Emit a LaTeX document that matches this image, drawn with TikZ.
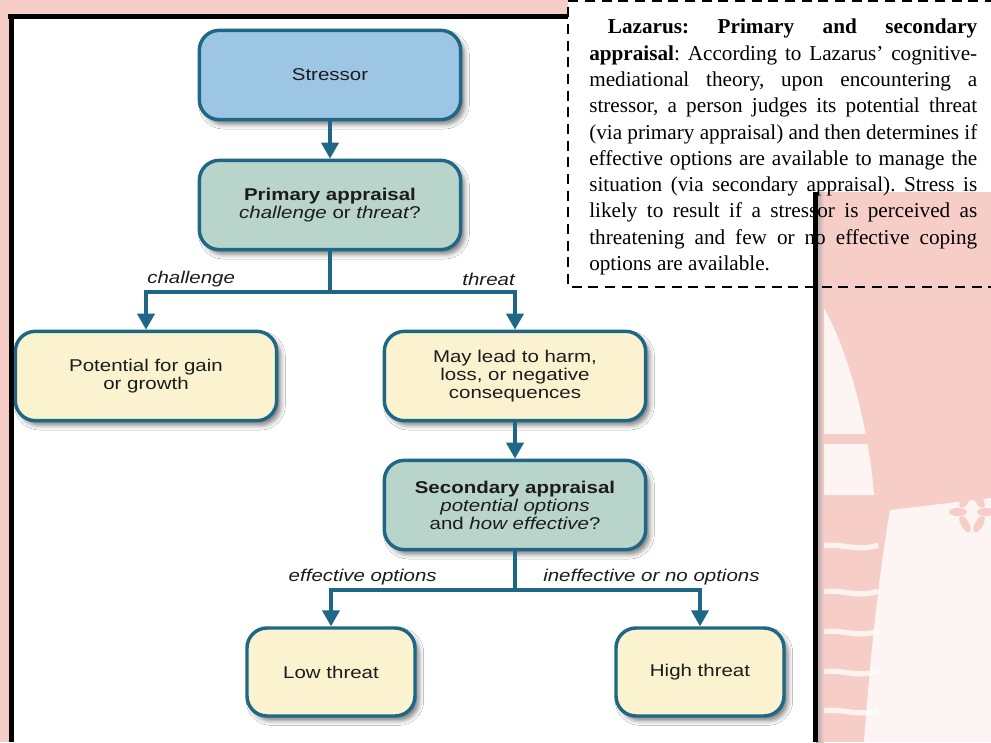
\documentclass[tikz,border=0pt]{standalone}
\usepackage{fontspec}
\setmainfont{Liberation Serif}
\newfontfamily\diagfont[FakeStretch=1.2]{Liberation Sans}
\usetikzlibrary{arrows.meta,shadows.blur}
\definecolor{wmpink}{HTML}{F7CDC7}
\definecolor{edge}{HTML}{1E6786}
\definecolor{stressfill}{HTML}{9DC6E5}
\definecolor{apprfill}{HTML}{B8D4CB}
\definecolor{outfill}{HTML}{FBF3CF}
\definecolor{ink}{HTML}{1C1C1C}
\begin{document}
\frenchspacing
\begin{tikzpicture}[x=0.75pt,y=-0.75pt,
  box/.style={draw=edge, line width=2.6pt, rounded corners=15pt, align=center,
    font=\diagfont\fontsize{12.8}{13.5}\selectfont, text=ink, inner sep=0pt,
    blur shadow={shadow xshift=3pt, shadow yshift=-3.5pt, shadow blur radius=3.5pt, shadow opacity=50}},
  wide/.style={box, minimum width=196pt, minimum height=67pt},
  narrow/.style={box, minimum width=126pt, minimum height=66pt},
  conn/.style={draw=edge, line width=2.4pt},
  arr/.style={conn, -{Triangle[width=13pt,length=12pt]}},
  lbl/.style={font=\diagfont\itshape\fontsize{12.8}{13.5}\selectfont, text=ink, inner sep=0pt},
  frameline/.style={line width=3.75pt, black},
  notedash/.style={line width=1.5pt, dash pattern=on 7.5pt off 5pt},
]
\useasboundingbox (0,0) rectangle (991,742);

% page background with the pale crest
\fill[wmpink] (0,0) rectangle (991,742);
\fill[white, opacity=.8] (818,298) .. controls (845,340) and (868,420) .. (874,495) -- (818,495) -- cycle;
\fill[wmpink] (818,434) rectangle (874,444);
\fill[white, opacity=.8] (890,510) -- (991,498) -- (991,742) -- (864,742) .. controls (870,660) and (878,580) .. (890,510) -- cycle;
\foreach \yy in {547,593,633,673,712}
  \draw[white, opacity=.75, line width=4pt] (818,\yy) .. controls (838,\yy-6) and (858,\yy+6) .. (878,\yy-2);
\foreach \ang in {0,60,120,180,240,300}
  \fill[wmpink] (972,512) ++(\ang:14) ellipse [x radius=9, y radius=4, rotate=\ang];

% white sheet of the figure and of the note
\fill[white] (11,17) rectangle (815,742);
\fill[white] (568,0) rectangle (991,192);
\shade[left color=black!35, right color=wmpink] (816,192) rectangle (824,742);

% flowchart
\node[wide, fill=stressfill] (stressor) at (330,75) {Stressor};
\node[wide, fill=apprfill] (primary) at (330,205) {\textbf{Primary appraisal}\\\textit{challenge} or \textit{threat}?};
\node[wide, fill=outfill] (gain) at (146,376) {Potential for gain\\or growth};
\node[wide, fill=outfill] (harm) at (515,376) {May lead to harm,\\loss, or negative\\consequences};
\node[wide, fill=apprfill] (secondary) at (515,505) {\textbf{Secondary appraisal}\\\textit{potential options}\\and \textit{how effective}?};
\node[narrow, fill=outfill] (low) at (331,672) {Low threat};
\node[narrow, fill=outfill] (high) at (700,672) {High threat};

\coordinate (split1) at (330,292);
\coordinate (split2) at (515,590);

\draw[arr] (stressor) -- (primary);
\draw[conn] (primary) -- (split1);
\draw[arr] (split1) -| (gain);
\draw[arr] (split1) -| (harm);
\draw[arr] (harm) -- (secondary);
\draw[conn] (secondary) -- (split2);
\draw[arr] (split2) -| (low);
\draw[arr] (split2) -| (high);

\node[lbl, anchor=west] (lchallenge) at (147,279) {challenge};
\node[lbl, anchor=east] (lthreat) at (515,279) {threat};
\node[lbl, anchor=east] (leff) at (437,577) {effective options};
\node[lbl, anchor=west] (lineff) at (543,577) {ineffective or no options};

% explanatory note
\node[anchor=north west, inner sep=0pt, text width=291pt, align=justify,
  font=\fontsize{15.9}{19.7}\selectfont] (note) at (589,19)
  {\hspace*{14pt}\textbf{Lazarus: Primary and secondary}\linebreak
   \textbf{appraisal}: According to Lazarus’ cognitive-\linebreak
   mediational theory, upon encountering a\linebreak
   stressor, a person judges its potential threat\linebreak
   (via primary appraisal) and then determines if\linebreak
   effective options are available to manage the\linebreak
   situation (via secondary appraisal). Stress is\linebreak
   likely to result if a stressor is perceived as\linebreak
   threatening and few or no effective coping\linebreak
   options are available.};
\draw[notedash] (995,1) -- (568,1) -- (568,287) -- (995,287);

% black frame of the figure
\draw[frameline] (8,17) -- (568,17);
\draw[frameline] (11.5,15) -- (11.5,742);
\draw[frameline] (815,192) -- (815,742);
\end{tikzpicture}
\end{document}
